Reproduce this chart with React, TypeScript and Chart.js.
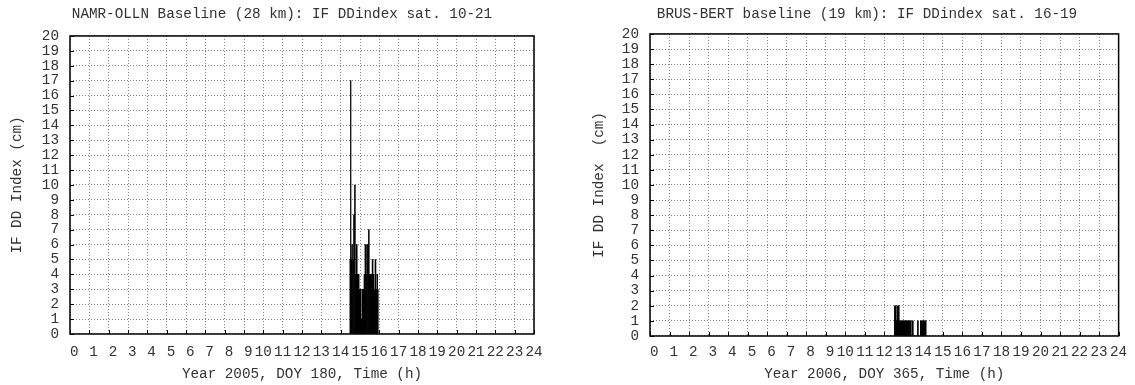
import { useEffect, useRef } from "react";
import { Chart, registerables } from "chart.js";

Chart.register(...registerables);

// ---------- data ----------
const leftTitle = "NAMR-OLLN Baseline (28 km): IF DDindex sat. 10-21";
const leftXLabel = "Year 2005, DOY 180, Time (h)";
const leftYLabel = "IF DD Index (cm)";
const leftTimes = [
  14.49, 14.52, 14.55, 14.59, 14.64, 14.69, 14.74, 14.78, 14.83, 14.88, 14.93,
  14.98, 15.03, 15.08, 15.13, 15.18, 15.23, 15.28, 15.32, 15.36, 15.41, 15.46,
  15.5, 15.55, 15.6, 15.65, 15.7, 15.75, 15.8, 15.85, 15.9, 15.93,
];
const leftValues = [
  5, 17, 5, 6, 5, 8, 10, 4, 6, 4, 4, 3, 3, 1, 3, 3, 4, 6, 4, 6, 6, 7, 4, 4, 4,
  5, 4, 3, 5, 3, 4, 3,
];

const rightTitle = "BRUS-BERT baseline (19 km): IF DDindex sat. 16-19";
const rightXLabel = "Year 2006, DOY 365, Time (h)";
const rightYLabel = "IF DD Index  (cm)";
const rightTimes = [
  12.54, 12.59, 12.64, 12.69, 12.74, 12.79, 12.84, 12.9, 12.95, 13.0, 13.05,
  13.1, 13.15, 13.21, 13.26, 13.31, 13.36, 13.41, 13.46, 13.51, 13.56, 13.61,
  13.67, 13.72, 13.77, 13.82, 13.87, 13.92, 13.97, 14.02, 14.07, 14.12,
];
const rightValues = [
  2, 2, 1, 2, 2, 1, 1, 1, 1, 1, 1, 1, 1, 1, 1, 1, 1, 0, 1, 0, 0, 0, 0, 1, 0, 0,
  1, 1, 1, 1, 1, 1,
];

const xRange = [0, 24];
const yRange = [0, 20];

// ---------- styling ----------
const FONT = { family: "'Liberation Mono', 'DejaVu Sans Mono', monospace", size: 14.3 };
const TEXT = "#333";
const GRID = "rgba(0,0,0,0.5)";

const framePlugin = {
  id: "gnuFrame",
  afterDatasetsDraw(chart: any) {
    const { ctx, chartArea, scales } = chart;
    const { left, right, top, bottom } = chartArea;
    ctx.save();
    ctx.strokeStyle = "#000";
    ctx.lineWidth = 1;
    ctx.setLineDash([]);
    ctx.beginPath();
    scales.x.ticks.forEach((t: any) => {
      const px = Math.round(scales.x.getPixelForValue(t.value)) + 0.5;
      ctx.moveTo(px, bottom);
      ctx.lineTo(px, bottom - 4);
    });
    scales.y.ticks.forEach((t: any) => {
      const py = Math.round(scales.y.getPixelForValue(t.value)) + 0.5;
      ctx.moveTo(left, py);
      ctx.lineTo(left + 4, py);
    });
    ctx.stroke();
    ctx.lineWidth = 1.5;
    ctx.strokeRect(left, top, right - left, bottom - top);
    ctx.restore();
  },
};

type Cfg = {
  title: string;
  xLabel: string;
  yLabel: string;
  times: number[];
  values: number[];
  padLeft: number;
  padRight: number;
  yWidth: number;
  yTitleOffset: number;
  titleBottom: number;
  xHeight: number;
  xTickPad: number;
};

function makeConfig(c: Cfg): any {
  return {
    type: "bar",
    data: {
      datasets: [
        {
          data: c.times.map((t, i) => ({ x: t, y: c.values[i] })),
          backgroundColor: "#000",
          borderWidth: 0,
          barPercentage: 1,
          categoryPercentage: 1,
          barThickness: "flex",
        },
      ],
    },
    options: {
      responsive: false,
      animation: false,
      devicePixelRatio: 1,
      layout: { padding: { left: c.padLeft, right: c.padRight, top: 0, bottom: 0 } },
      plugins: {
        legend: { display: false },
        tooltip: { enabled: false },
        title: {
          display: true,
          text: c.title,
          font: { ...FONT, weight: "normal" },
          color: TEXT,
          padding: { top: 5.5, bottom: c.titleBottom },
        },
      },
      events: [],
      scales: {
        x: {
          type: "linear",
          min: xRange[0],
          max: xRange[1],
          offset: false,
          ticks: {
            stepSize: 1,
            autoSkip: false,
            maxRotation: 0,
            minRotation: 0,
            padding: c.xTickPad,
            font: FONT,
            color: TEXT,
            // gnuplot prints labels in a two-character field
            callback: (v: any) => (Number(v) < 10 ? " " + v : String(v)),
          },
          grid: { color: GRID, lineWidth: 1, drawTicks: false, offset: false },
          border: { display: false, dash: [1, 2] },
          title: {
            display: true,
            text: c.xLabel,
            font: FONT,
            color: TEXT,
            padding: { top: 0, bottom: 2.6 },
          },
          afterFit: (s: any) => {
            s.height = c.xHeight;
          },
        },
        y: {
          type: "linear",
          min: yRange[0],
          max: yRange[1],
          ticks: { stepSize: 1, autoSkip: false, padding: 11, font: FONT, color: TEXT },
          grid: { color: GRID, lineWidth: 1, drawTicks: false },
          border: { display: false, dash: [1, 2] },
          title: {
            display: true,
            text: c.yLabel,
            font: FONT,
            color: TEXT,
            padding: { top: c.yTitleOffset, bottom: 0 },
          },
          afterFit: (s: any) => {
            s.width = c.yWidth;
          },
        },
      },
    },
    plugins: [framePlugin],
  };
}

export default function App() {
  const leftRef = useRef<HTMLCanvasElement | null>(null);
  const rightRef = useRef<HTMLCanvasElement | null>(null);

  useEffect(() => {
    const left = new Chart(
      leftRef.current as HTMLCanvasElement,
      makeConfig({
        title: leftTitle,
        xLabel: leftXLabel,
        yLabel: leftYLabel,
        times: leftTimes,
        values: leftValues,
        padLeft: 30,
        padRight: 31,
        yWidth: 40,
        yTitleOffset: -21.4,
        titleBottom: 13.3,
        xHeight: 51,
        xTickPad: 9.4,
      })
    );
    const right = new Chart(
      rightRef.current as HTMLCanvasElement,
      makeConfig({
        title: rightTitle,
        xLabel: rightXLabel,
        yLabel: rightYLabel,
        times: rightTimes,
        values: rightValues,
        padLeft: 35,
        padRight: 16,
        yWidth: 35,
        yTitleOffset: -24.4,
        titleBottom: 11.3,
        xHeight: 49,
        xTickPad: 7.8,
      })
    );
    return () => {
      left.destroy();
      right.destroy();
    };
  }, []);

  return (
    <div
      style={{
        position: "absolute",
        left: 0,
        top: 0,
        width: 1135,
        height: 385,
        background: "#fff",
        overflow: "hidden",
      }}
    >
      <canvas
        ref={leftRef}
        width={565}
        height={385}
        style={{ position: "absolute", left: 0, top: 0, width: 565, height: 385 }}
      />
      <canvas
        ref={rightRef}
        width={555}
        height={385}
        style={{ position: "absolute", left: 580, top: 0, width: 555, height: 385 }}
      />
    </div>
  );
}
